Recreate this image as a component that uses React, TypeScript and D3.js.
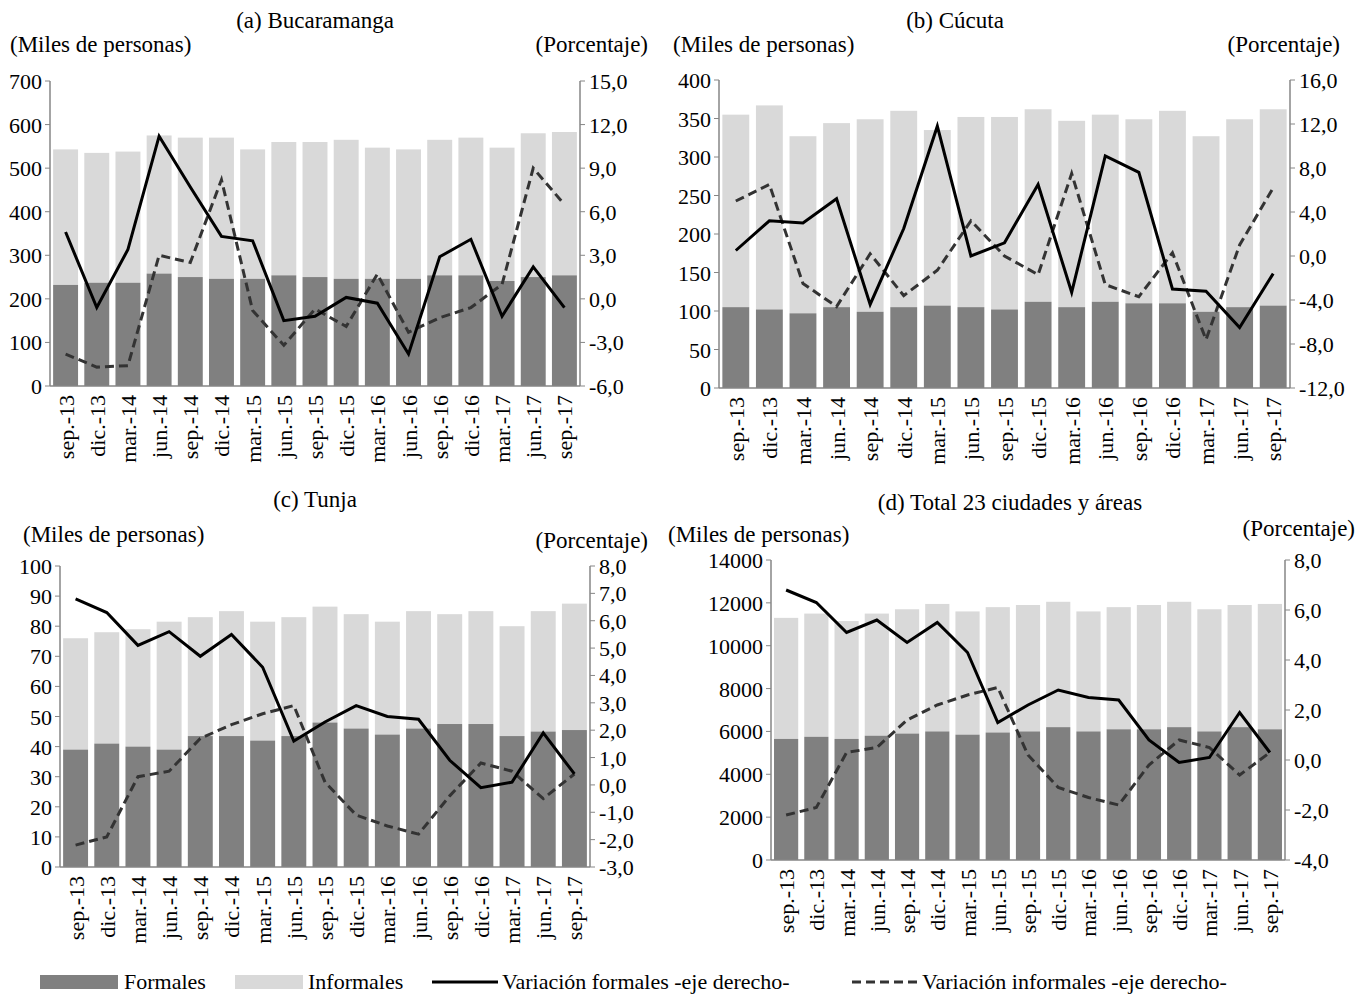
import React from 'react';
import * as d3 from 'd3';

const periods = ['sep.-13', 'dic.-13', 'mar.-14', 'jun.-14', 'sep.-14', 'dic.-14', 'mar.-15', 'jun.-15', 'sep.-15', 'dic.-15', 'mar.-16', 'jun.-16', 'sep.-16', 'dic.-16', 'mar.-17', 'jun.-17', 'sep.-17'];

// Bucaramanga
const bucTotal = [543, 535, 538, 575, 570, 570, 543, 560, 560, 565, 547, 543, 565, 570, 547, 580, 583];
const bucFormales = [232, 237, 237, 258, 250, 246, 246, 254, 250, 246, 246, 246, 254, 254, 241, 250, 254];
const bucVarFor = [4.6, -0.6, 3.4, 11.2, 7.7, 4.3, 4.0, -1.5, -1.2, 0.1, -0.3, -3.8, 2.9, 4.1, -1.2, 2.2, -0.6];
const bucVarInf = [-3.8, -4.7, -4.6, 3.0, 2.5, 8.2, -0.8, -3.2, -0.7, -1.9, 1.7, -2.3, -1.3, -0.6, 1.0, 9.0, 6.5];

// Cúcuta
const cucTotal = [355, 367, 327, 344, 349, 360, 335, 352, 352, 362, 347, 355, 349, 360, 327, 349, 362];
const cucFormales = [105, 102, 97, 105, 99, 105, 107, 105, 102, 112, 105, 112, 110, 110, 99, 105, 107];
const cucVarFor = [0.5, 3.2, 3.0, 5.2, -4.4, 2.5, 11.8, 0.0, 1.2, 6.5, -3.3, 9.1, 7.6, -3.0, -3.2, -6.5, -1.6];
const cucVarInf = [5.0, 6.5, -2.5, -4.6, 0.2, -3.6, -1.3, 3.2, 0.0, -1.7, 7.5, -2.6, -3.7, 0.3, -7.6, 1.0, 6.2];

// Tunja
const tunTotal = [76, 78, 79, 81.5, 83, 85, 81.5, 83, 86.5, 84, 81.5, 85, 84, 85, 80, 85, 87.5];
const tunFormales = [39, 41, 40, 39, 43.5, 43.5, 42, 43.5, 48, 46, 44, 46, 47.5, 47.5, 43.5, 45, 45.5];
const tunVarFor = [6.8, 6.3, 5.1, 5.6, 4.7, 5.5, 4.3, 1.6, 2.3, 2.9, 2.5, 2.4, 0.9, -0.1, 0.1, 1.9, 0.4];
const tunVarInf = [-2.2, -1.9, 0.3, 0.5, 1.7, 2.2, 2.6, 2.9, 0.1, -1.1, -1.5, -1.8, -0.4, 0.8, 0.5, -0.5, 0.4];

// Total 23 ciudades
const totTotal = [11300, 11500, 11150, 11500, 11700, 11950, 11600, 11800, 11900, 12050, 11600, 11800, 11900, 12050, 11700, 11900, 11950];
const totFormales = [5650, 5750, 5650, 5800, 5900, 6000, 5850, 5950, 6000, 6200, 6000, 6100, 6100, 6200, 6000, 6200, 6100];
const totVarFor = [6.8, 6.3, 5.1, 5.6, 4.7, 5.5, 4.3, 1.5, 2.2, 2.8, 2.5, 2.4, 0.8, -0.1, 0.1, 1.9, 0.3];
const totVarInf = [-2.2, -1.9, 0.3, 0.5, 1.6, 2.2, 2.6, 2.9, 0.2, -1.1, -1.5, -1.8, -0.2, 0.8, 0.5, -0.6, 0.3];

const FONT = '"Liberation Serif", "Times New Roman", serif';
const C_FOR = '#808080';
const C_INF = '#d9d9d9';
const AXIS = '#868686';

interface PanelProps {
  title: string; tx: number; ty: number;
  x0: number; x1: number; y0: number; y1: number;
  lmax: number; lstep: number; rmin: number; rmax: number; rstep: number;
  total: number[]; formales: number[]; varFor: number[]; varInf: number[];
  milesX: number; milesY: number; porcX: number; porcY: number;
}

const fmt = (v: number) => v.toFixed(1).replace('.', ',');

const Panel: React.FC<PanelProps> = (p) => {
  const x = d3.scaleBand<string>().domain(periods).range([p.x0, p.x1]).paddingInner(0.2).paddingOuter(0.1);
  const yl = d3.scaleLinear().domain([0, p.lmax]).range([p.y1, p.y0]);
  const yr = d3.scaleLinear().domain([p.rmin, p.rmax]).range([p.y1, p.y0]);
  const lt = d3.range(0, p.lmax + p.lstep / 2, p.lstep);
  const rt = d3.range(p.rmin, p.rmax + p.rstep / 2, p.rstep);
  const line = d3.line<number>().x((_, i) => x(periods[i])! + x.bandwidth() / 2).y(d => yr(d));
  return (
    <g fontFamily={FONT}>
      <text x={p.tx} y={p.ty} fontSize={23} textAnchor="middle">{p.title}</text>
      <text x={p.milesX} y={p.milesY} fontSize={23}>(Miles de personas)</text>
      <text x={p.porcX} y={p.porcY} fontSize={23} textAnchor="end">(Porcentaje)</text>
      {periods.map((per, i) => (
        <g key={per}>
          <rect x={x(per)} width={x.bandwidth()} y={yl(p.total[i])} height={yl(p.formales[i]) - yl(p.total[i])} fill={C_INF} />
          <rect x={x(per)} width={x.bandwidth()} y={yl(p.formales[i])} height={p.y1 - yl(p.formales[i])} fill={C_FOR} />
          <text transform={`translate(${x(per)! + x.bandwidth() / 2 + 8},${p.y1 + 9}) rotate(-90)`} fontSize={22} textAnchor="end">{per}</text>
        </g>
      ))}
      <line x1={p.x0} x2={p.x0} y1={p.y0} y2={p.y1} stroke={AXIS} strokeWidth={1.5} />
      <line x1={p.x1} x2={p.x1} y1={p.y0} y2={p.y1} stroke={AXIS} strokeWidth={1.5} />
      <line x1={p.x0} x2={p.x1} y1={p.y1} y2={p.y1} stroke={AXIS} strokeWidth={1.5} />
      {lt.map(t => (
        <g key={'l' + t}>
          <line x1={p.x0 - 5} x2={p.x0} y1={yl(t)} y2={yl(t)} stroke={AXIS} />
          <text x={p.x0 - 8} y={yl(t) + 8} fontSize={22} textAnchor="end">{t}</text>
        </g>
      ))}
      {rt.map(t => (
        <g key={'r' + t}>
          <line x1={p.x1} x2={p.x1 + 5} y1={yr(t)} y2={yr(t)} stroke={AXIS} />
          <text x={p.x1 + 9} y={yr(t) + 8} fontSize={22}>{fmt(t)}</text>
        </g>
      ))}
      <path d={line(p.varInf)!} fill="none" stroke="#333" strokeWidth={3} strokeDasharray="9,5" />
      <path d={line(p.varFor)!} fill="none" stroke="#000" strokeWidth={3} />
    </g>
  );
};

export default function App() {
  return (
    <svg width={1359} height={995} style={{ display: 'block', position: 'absolute', left: 0, top: 0, background: '#fff' }}>
      <Panel title="(a) Bucaramanga" tx={315} ty={28} x0={50} x1={580} y0={81} y1={386}
        lmax={700} lstep={100} rmin={-6} rmax={15} rstep={3}
        total={bucTotal} formales={bucFormales} varFor={bucVarFor} varInf={bucVarInf}
        milesX={10} milesY={52} porcX={648} porcY={52} />
      <Panel title="(b) Cúcuta" tx={955} ty={28} x0={719} x1={1290} y0={80} y1={388}
        lmax={400} lstep={50} rmin={-12} rmax={16} rstep={4}
        total={cucTotal} formales={cucFormales} varFor={cucVarFor} varInf={cucVarInf}
        milesX={673} milesY={52} porcX={1340} porcY={52} />
      <Panel title="(c) Tunja" tx={315} ty={507} x0={60} x1={590} y0={566} y1={867}
        lmax={100} lstep={10} rmin={-3} rmax={8} rstep={1}
        total={tunTotal} formales={tunFormales} varFor={tunVarFor} varInf={tunVarInf}
        milesX={23} milesY={542} porcX={648} porcY={548} />
      <Panel title="(d) Total 23 ciudades y áreas" tx={1010} ty={510} x0={771} x1={1285} y0={560} y1={860}
        lmax={14000} lstep={2000} rmin={-4} rmax={8} rstep={2}
        total={totTotal} formales={totFormales} varFor={totVarFor} varInf={totVarInf}
        milesX={668} milesY={542} porcX={1355} porcY={536} />
      <g fontFamily={FONT} fontSize={22}>
        <rect x={40} y={975} width={78} height={14} fill={C_FOR} />
        <text x={124} y={989}>Formales</text>
        <rect x={235} y={975} width={68} height={14} fill={C_INF} />
        <text x={308} y={989}>Informales</text>
        <line x1={432} x2={498} y1={982} y2={982} stroke="#000" strokeWidth={3} />
        <text x={502} y={989}>Variación formales -eje derecho-</text>
        <line x1={852} x2={918} y1={982} y2={982} stroke="#333" strokeWidth={3} strokeDasharray="9,5" />
        <text x={922} y={989}>Variación informales -eje derecho-</text>
      </g>
    </svg>
  );
}
